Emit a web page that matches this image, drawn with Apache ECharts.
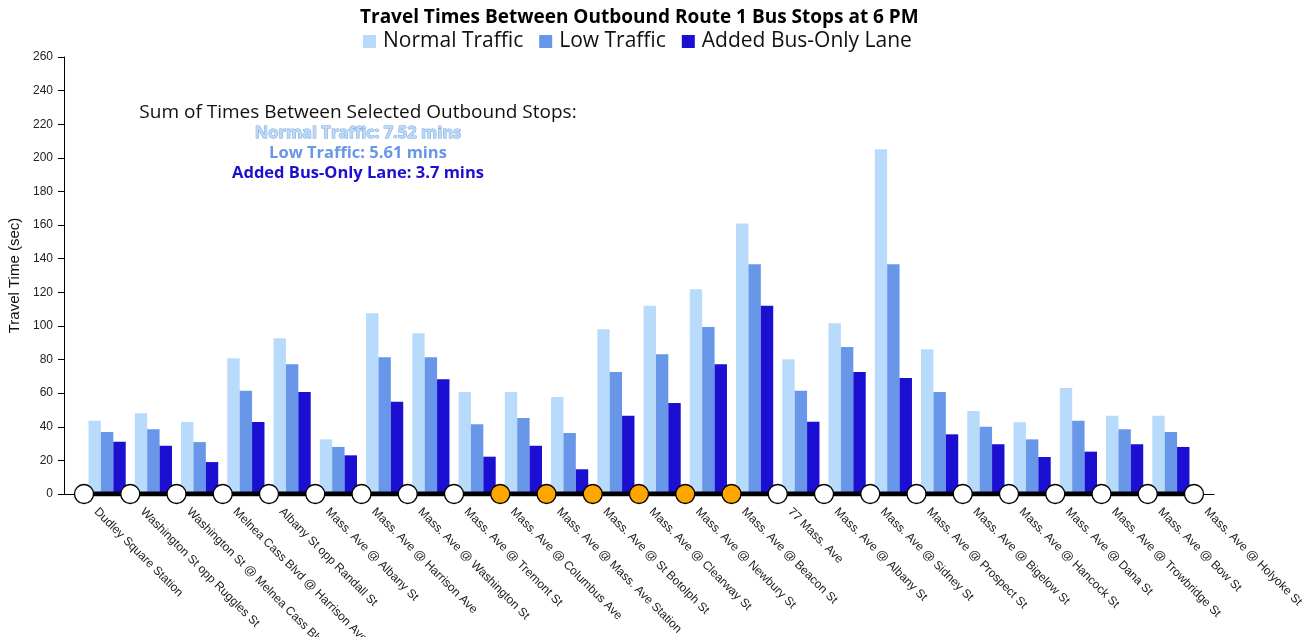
<!DOCTYPE html>
<html>
<head>
<meta charset="utf-8">
<script src="https://cdn.jsdelivr.net/npm/echarts@6/dist/echarts.min.js"></script>
<style>
html,body{margin:0;padding:0;background:#fff;}
#chart{width:1309px;height:637px;}
</style>
</head>
<body>
<div id="chart"></div>
<script>
const stops = [
  'Dudley Square Station', 'Washington St opp Ruggles St', 'Washington St @ Melnea Cass Blvd',
  'Melnea Cass Blvd @ Harrison Ave', 'Albany St opp Randall St', 'Mass. Ave @ Albany St',
  'Mass. Ave @ Harrison Ave', 'Mass. Ave @ Washington St', 'Mass. Ave @ Tremont St',
  'Mass. Ave @ Columbus Ave', 'Mass. Ave @ Mass. Ave Station', 'Mass. Ave @ St Botolph St',
  'Mass. Ave @ Clearway St', 'Mass. Ave @ Newbury St', 'Mass. Ave @ Beacon St',
  '77 Mass. Ave', 'Mass. Ave @ Albany St', 'Mass. Ave @ Sidney St', 'Mass. Ave @ Prospect St',
  'Mass. Ave @ Bigelow St', 'Mass. Ave @ Hancock St', 'Mass. Ave @ Dana St',
  'Mass. Ave @ Trowbridge St', 'Mass. Ave @ Bow St', 'Mass. Ave @ Holyoke St'
];
const selectedStops = [9, 10, 11, 12, 13, 14];
const seriesNames = ['Normal Traffic', 'Low Traffic', 'Added Bus-Only Lane'];
const normalTraffic = [43.6, 48.0, 42.8, 80.7, 92.6, 32.5, 107.5, 95.6, 60.7, 60.7, 57.7, 98.0, 112.0, 121.8, 161.0, 80.1, 101.6, 205.1, 86.1, 49.4, 42.7, 63.1, 46.6, 46.6];
const lowTraffic = [36.9, 38.5, 30.9, 61.5, 77.2, 28.0, 81.3, 81.3, 41.5, 45.2, 36.3, 72.6, 83.1, 99.4, 136.7, 61.5, 87.5, 136.7, 60.7, 40.0, 32.5, 43.6, 38.5, 36.9];
const busLane = [31.1, 28.7, 19.0, 42.8, 60.7, 23.0, 54.9, 68.2, 22.2, 28.7, 14.7, 46.6, 54.1, 77.2, 112.0, 43.0, 72.6, 69.0, 35.5, 29.6, 22.0, 25.2, 29.6, 28.0];
const yMin = 0, yMax = 260, yStep = 20;
const sumTitle = 'Sum of Times Between Selected Outbound Stops:';
const sumLines = ['Normal Traffic: 7.52 mins', 'Low Traffic: 5.61 mins', 'Added Bus-Only Lane: 3.7 mins'];

const colors = ['#b8dbfc', '#6896e8', '#1b0fd2'];
const segments = stops.slice(0, -1).map((s, i) => s + ' \u2192 ' + stops[i + 1]);
const SANS = '"Open Sans", "Noto Sans", sans-serif';
const ARIAL = '"Liberation Sans", Arial, sans-serif';

const chart = echarts.init(document.getElementById('chart'), null, {renderer: 'canvas'});

const barSeries = [normalTraffic, lowTraffic, busLane].map((d, k) => ({
  name: seriesNames[k], type: 'bar', xAxisIndex: 1, yAxisIndex: 1,
  data: d, barWidth: 12.4, barGap: '0%', itemStyle: {color: colors[k]}, z: 2
}));

const option = {
  animation: false,
  color: colors,
  title: {
    text: 'Travel Times Between Outbound Route 1 Bus Stops at 6 PM',
    left: 355, top: 3,
    textStyle: {fontFamily: SANS, fontWeight: 'bold', fontSize: 19, color: '#000'}
  },
  legend: {
    data: seriesNames, top: 26, left: 358,
    icon: 'rect', itemWidth: 13, itemHeight: 13, itemGap: 16,
    textStyle: {fontFamily: SANS, fontSize: 21, color: '#111', padding: [0, 0, 0, 2]}
  },
  grid: [
    {left: 64, right: 95, top: 57, bottom: 143, outerBoundsMode: 'none', containLabel: false},
    {left: 84, right: 115, top: 57, bottom: 143, outerBoundsMode: 'none', containLabel: false}
  ],
  xAxis: [
    {type: 'value', gridIndex: 0, min: 0, max: 1,
      axisLine: {show: true, lineStyle: {color: '#000', width: 1}},
      axisTick: {show: false}, axisLabel: {show: false}, splitLine: {show: false}},
    {type: 'category', gridIndex: 1, data: segments, boundaryGap: true,
      axisLine: {show: false}, axisTick: {show: false}, axisLabel: {show: false}},
    {type: 'category', gridIndex: 1, data: stops, boundaryGap: false, position: 'bottom',
      axisLine: {show: false}, axisTick: {show: false},
      axisLabel: {interval: 0, rotate: -45, margin: 4, padding: [0, 0, 0, 17],
        fontFamily: ARIAL, fontSize: 12, color: '#222'}}
  ],
  yAxis: [
    {type: 'value', gridIndex: 0, min: yMin, max: yMax, interval: yStep,
      name: 'Travel Time (sec)', nameLocation: 'middle', nameGap: 39,
      nameTextStyle: {fontFamily: ARIAL, fontSize: 15, color: '#111'},
      axisLine: {show: true, lineStyle: {color: '#000', width: 1}},
      axisTick: {show: true, length: 6, lineStyle: {color: '#000'}},
      axisLabel: {fontFamily: ARIAL, fontSize: 12, color: '#222', margin: 11},
      splitLine: {show: false}},
    {type: 'value', gridIndex: 1, min: yMin, max: yMax, interval: yStep, show: false}
  ],
  graphic: [
    {type: 'text', x: 358, y: 113, z: 10,
      style: {text: sumTitle, font: '19px ' + SANS, fill: '#111', textAlign: 'center', textVerticalAlign: 'middle'}},
  ].concat(sumLines.map((t, i) => ({
    type: 'text', x: 358, y: 133 + i * 20, z: 10,
    style: {text: t, textAlign: 'center', textVerticalAlign: 'middle', font: 'bold 16.5px ' + SANS,
      fill: i === 0 ? '#b8dbfc' : colors[i],
      stroke: i === 0 ? '#7fa3d6' : null, lineWidth: i === 0 ? 1 : 0}
  }))),
  series: barSeries.concat([{
    name: 'stops', type: 'line', xAxisIndex: 2, yAxisIndex: 1,
    data: stops.map((s, i) => ({
      value: 0,
      itemStyle: {color: selectedStops.includes(i) ? '#ffa500' : '#fff', borderColor: '#000', borderWidth: 1.3}
    })),
    symbol: 'circle', symbolSize: 19, showSymbol: true, showAllSymbol: true,
    lineStyle: {color: '#000', width: 5}, z: 5, silent: true
  }])
};
chart.setOption(option);
</script>
</body>
</html>
